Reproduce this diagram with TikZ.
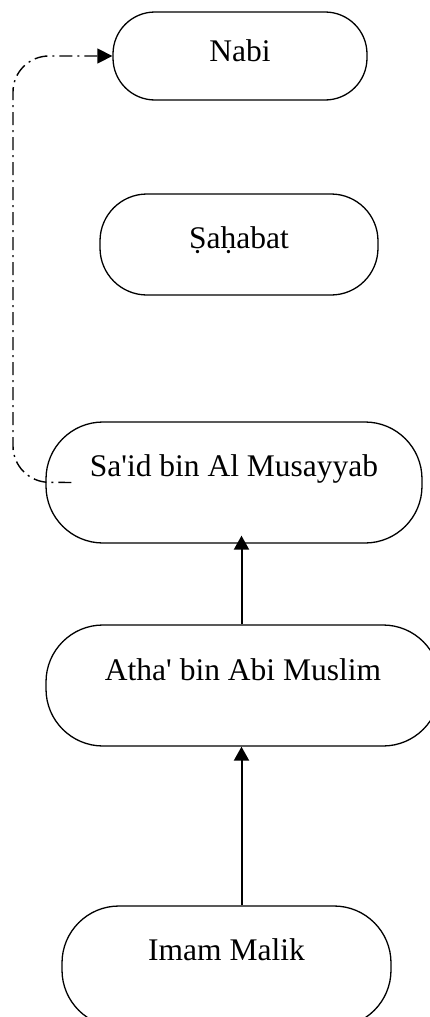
\documentclass[tikz,border=0pt]{standalone}
\usepackage{fontspec}
\setmainfont{Liberation Serif}[Ligatures=TeXOff]
\usetikzlibrary{arrows.meta}
\begin{document}
\begin{tikzpicture}[x=1pt,y=-1pt,
  box/.style={draw,line width=1.3pt,inner sep=0pt,text height=21pt,
    font=\fontsize{31.5}{38}\selectfont},
  arr/.style={line width=2pt,-{Triangle[length=14pt,width=15pt]}},
  dd/.style={line width=1.4pt,dash pattern=on 13pt off 5pt on 2pt off 5pt,
    rounded corners=36pt,-{Triangle[length=15pt,width=15pt]}}]
\useasboundingbox (0,0) rectangle (429,1017);
\node[box,minimum width=254pt,minimum height=88pt,rounded corners=42pt,text depth=9.6pt] (nabi) at (240,56) {Nabi};
\node[box,minimum width=278pt,minimum height=101pt,rounded corners=47pt,text depth=13.4pt] (sahabat) at (239,244.5) {Ṣaḥabat};
\node[box,minimum width=376pt,minimum height=121pt,rounded corners=57pt,text depth=32.6pt] (said) at (234,482.5) {Sa'id bin Al Musayyab};
\node[box,minimum width=394pt,minimum height=121pt,rounded corners=57pt,text depth=32pt] (atha) at (243,685.5) {Atha' bin Abi Muslim};
\node[box,minimum width=329pt,minimum height=121pt,rounded corners=57pt,text depth=34pt] (imam) at (226.5,966.5) {Imam Malik};
\coordinate (c1) at (13,482);
\coordinate (c2) at (13,56);
\draw[arr] ([xshift=-1.5pt]atha.north) -- ([xshift=-1.5pt,yshift=8pt]atha.north |- said.south);
\draw[arr] ([xshift=15pt]imam.north) -- ([xshift=15pt]imam.north |- atha.south);
\draw[dd] ([xshift=26pt]said.west) -- (c1) -- (c2) -- (nabi.west);
\end{tikzpicture}
\end{document}
